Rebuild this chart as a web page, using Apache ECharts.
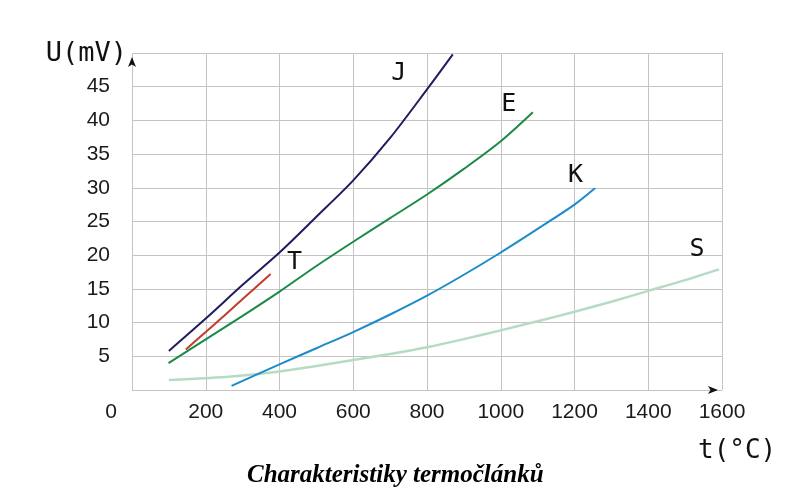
<!DOCTYPE html>
<html><head><meta charset="utf-8">
<script src="https://cdn.jsdelivr.net/npm/echarts@6/dist/echarts.min.js"></script>
<style>html,body{margin:0;padding:0;background:#fff}#c{width:803px;height:495px}</style>
</head><body><div id="c"></div>
<script>
// Tick labels / axes
const xMin = 0, xMax = 1600, xStep = 200;
const yMin = 0, yMax = 50, yStep = 5;
const seriesNames = ['J', 'E', 'K', 'S', 'T'];
// temperature (°C) and voltage (mV)
const tJ = [100, 200, 300, 400, 500, 600, 700, 800, 870];
const uJ = [5.8, 10.6, 15.6, 20.4, 25.7, 31.1, 37.4, 44.6, 49.8];
const tE = [99, 200, 300, 400, 500, 600, 700, 800, 900, 1000, 1087];
const uE = [4.0, 7.5, 11.0, 14.6, 18.4, 22.0, 25.5, 29.0, 32.8, 36.9, 41.2];
const tK = [270, 400, 500, 600, 700, 800, 900, 1000, 1100, 1200, 1257];
const uK = [0.6, 3.8, 6.2, 8.6, 11.2, 14.0, 17.1, 20.4, 23.9, 27.5, 30.0];
const tS = [100, 200, 300, 400, 500, 600, 700, 800, 900, 1000, 1100, 1200, 1300, 1400, 1500, 1592];
const uS = [1.5, 1.75, 2.15, 2.75, 3.55, 4.45, 5.35, 6.35, 7.55, 8.85, 10.2, 11.6, 13.1, 14.7, 16.3, 17.9];
const tT = [146, 200, 250, 300, 376];
const uT = [6.0, 8.6, 11.0, 13.5, 17.2];

const zip = (a, b) => a.map((v, i) => [v, b[i]]);
const dataSets = [zip(tJ, uJ), zip(tE, uE), zip(tK, uK), zip(tS, uS), zip(tT, uT)];
const colors = ['#211c5e', '#1b8a47', '#1c8cc9', '#b6dbc5', '#c43b2b'];
const widths = [2, 2, 2, 2.5, 2];
const labelOffsets = [[-54, 19], [-24, -8], [-20, -12], [-22, -20], [24, -12]];

const mono = 'DejaVu Sans Mono';
const sans = 'Liberation Sans, Arial, sans-serif';

const chart = echarts.init(document.getElementById('c'), null, {renderer: 'canvas'});
chart.setOption({
  animation: false,
  backgroundColor: '#fff',
  title: {
    text: 'Charakteristiky termočlánků',
    left: 242, top: 458,
    textStyle: {fontFamily: 'Liberation Serif, Times New Roman, serif', fontStyle: 'italic', fontWeight: 'bold', fontSize: 25, color: '#000'}
  },
  grid: {left: 132, right: 81, top: 53, bottom: 105, containLabel: false, outerBoundsMode: 'none'},
  xAxis: {
    type: 'value', min: xMin, max: xMax, interval: xStep,
    name: 't(°C)', nameLocation: 'end', nameGap: -24,
    nameTextStyle: {fontFamily: mono, fontSize: 26, color: '#111', align: 'left', verticalAlign: 'top', padding: [48, 0, 0, 0]},
    axisLine: {show: true, onZero: false, symbol: ['none', 'arrow'], symbolSize: [6, 10], symbolOffset: [0, -4], lineStyle: {color: '#111', width: 0}},
    axisTick: {show: false},
    axisLabel: {
      margin: 12, fontFamily: sans, fontSize: 21, color: '#1a1a1a',
      formatter: v => v === 0 ? '{z|0}' : String(v),
      rich: {z: {fontFamily: sans, fontSize: 21, color: '#1a1a1a', padding: [0, 42, 0, 0]}}
    },
    splitLine: {show: true, lineStyle: {color: '#c4c4c4', width: 1}}
  },
  yAxis: {
    type: 'value', min: yMin, max: yMax, interval: yStep,
    name: 'U(mV)', nameLocation: 'end', nameGap: -1,
    nameTextStyle: {fontFamily: mono, fontSize: 27, color: '#111', align: 'right', verticalAlign: 'middle', padding: [0, 5, 0, 0]},
    axisLine: {show: true, onZero: false, symbol: ['none', 'arrow'], symbolSize: [6, 10], symbolOffset: [0, -4], lineStyle: {color: '#111', width: 0}},
    axisTick: {show: false},
    axisLabel: {
      margin: 22, fontFamily: sans, fontSize: 21, color: '#1a1a1a',
      formatter: v => (v === yMin || v === yMax) ? '' : String(v)
    },
    splitLine: {show: true, lineStyle: {color: '#c4c4c4', width: 1}}
  },
  series: seriesNames.map((name, i) => ({
    name: name,
    type: 'line',
    data: dataSets[i],
    smooth: 0.3,
    showSymbol: false,
    lineStyle: {color: colors[i], width: widths[i]},
    itemStyle: {color: colors[i]},
    z: i === 3 ? 1 : 2,
    markPoint: {
      symbol: 'circle', symbolSize: 0,
      itemStyle: {color: 'transparent'},
      label: {show: true, position: 'inside', formatter: name, fontFamily: mono, fontSize: 25, color: '#111', offset: labelOffsets[i]},
      data: [{coord: dataSets[i][dataSets[i].length - 1]}]
    }
  }))
});
</script>
</body></html>
